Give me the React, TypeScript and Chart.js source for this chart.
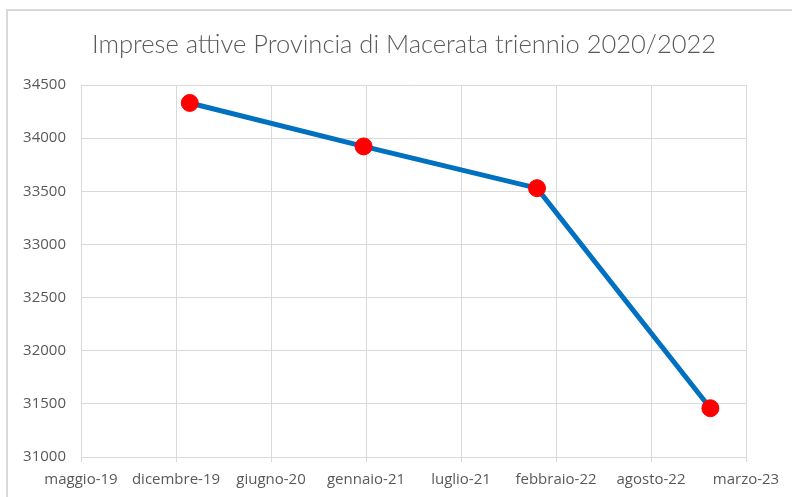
import React, { useEffect, useRef } from "react";
import { Chart, registerables } from "chart.js";

Chart.register(...registerables);

const chartTitle = "Imprese attive Provincia di Macerata triennio 2020/2022";
const pointDates = ["2019-12-31", "2020-12-31", "2021-12-31", "2022-12-31"];
const pointValues = [34332, 33923, 33530, 31459];
const tickDates = [
  "2019-05-16",
  "2019-12-02",
  "2020-06-19",
  "2021-01-05",
  "2021-07-24",
  "2022-02-09",
  "2022-08-28",
  "2023-03-16",
];
const tickLabels = [
  "maggio-19",
  "dicembre-19",
  "giugno-20",
  "gennaio-21",
  "luglio-21",
  "febbraio-22",
  "agosto-22",
  "marzo-23",
];
const yMin = 31000;
const yMax = 34500;
const yStep = 500;

const dayNum = (s: string) =>
  Date.UTC(+s.slice(0, 4), +s.slice(5, 7) - 1, +s.slice(8, 10)) / 86400000;

const TEXT = "#595959";
const GRID = "#d9d9d9";
const TITLE_FONT = "Lato, 'Open Sans', sans-serif";
const TICK_FONT = "'Open Sans', Lato, sans-serif";
const CANVAS_W = 808;
const CANVAS_H = 497;

export default function App() {
  const ref = useRef<HTMLCanvasElement | null>(null);

  useEffect(() => {
    if (!ref.current) return;
    const chart = new Chart(ref.current, {
      type: "line",
      data: {
        datasets: [
          {
            data: pointDates.map((d, i) => ({ x: dayNum(d), y: pointValues[i] })),
            borderColor: "#0070C0",
            borderWidth: 5,
            pointBackgroundColor: "#FF0000",
            pointBorderColor: "#FF0000",
            pointRadius: 8.5,
            pointBorderWidth: 1,
            tension: 0,
            xAxisID: "x",
            yAxisID: "y",
          },
        ],
      },
      options: {
        responsive: false,
        animation: false,
        layout: { padding: { left: 0, right: 0, top: 0, bottom: 0 } },
        plugins: {
          legend: { display: false },
          tooltip: { enabled: false },
          title: {
            display: true,
            text: chartTitle,
            color: TEXT,
            font: { family: TITLE_FONT, size: 25.5, weight: "300" as any, lineHeight: 1.2 },
            padding: { top: 29, bottom: 25.5 },
          },
        },
        scales: {
          x: {
            type: "linear",
            min: dayNum(tickDates[0]),
            max: dayNum(tickDates[tickDates.length - 1]),
            afterBuildTicks: (scale: any) => {
              scale.ticks = tickDates.map((d) => ({ value: dayNum(d) }));
            },
            afterFit: (scale: any) => {
              scale.height = 40;
            },
            ticks: {
              autoSkip: false,
              maxRotation: 0,
              minRotation: 0,
              color: TEXT,
              font: { family: TICK_FONT, size: 15 },
              padding: 9,
              callback: (_v: any, i: number) => tickLabels[i],
            },
            grid: { color: GRID, tickLength: 5, tickColor: GRID, lineWidth: 1 },
            border: { color: GRID },
          },
          y: {
            min: yMin,
            max: yMax,
            afterFit: (scale: any) => {
              scale.width = 81;
            },
            ticks: {
              stepSize: yStep,
              color: TEXT,
              font: { family: TICK_FONT, size: 15 },
              padding: 15,
              callback: (v: any) => String(v),
            },
            grid: { color: GRID, drawTicks: false, lineWidth: 1 },
            border: { display: false },
          },
          yRight: {
            type: "linear",
            position: "right",
            display: true,
            grid: { display: false, drawTicks: false },
            ticks: { display: false },
            border: { display: false },
            afterFit: (scale: any) => {
              scale.width = 62;
            },
          },
        },
      },
    });
    return () => chart.destroy();
  }, []);

  return (
    <div
      style={{
        position: "fixed",
        left: 0,
        top: 0,
        width: 792,
        height: 497,
        overflow: "hidden",
        background: "#fff",
      }}
    >
      <div
        style={{
          position: "absolute",
          left: 6,
          top: 9,
          width: 900,
          height: 900,
          border: `2px solid ${GRID}`,
          boxSizing: "border-box",
        }}
      />
      <canvas
        ref={ref}
        width={CANVAS_W}
        height={CANVAS_H}
        style={{ position: "absolute", left: 0, top: 0, width: CANVAS_W, height: CANVAS_H }}
      />
    </div>
  );
}
